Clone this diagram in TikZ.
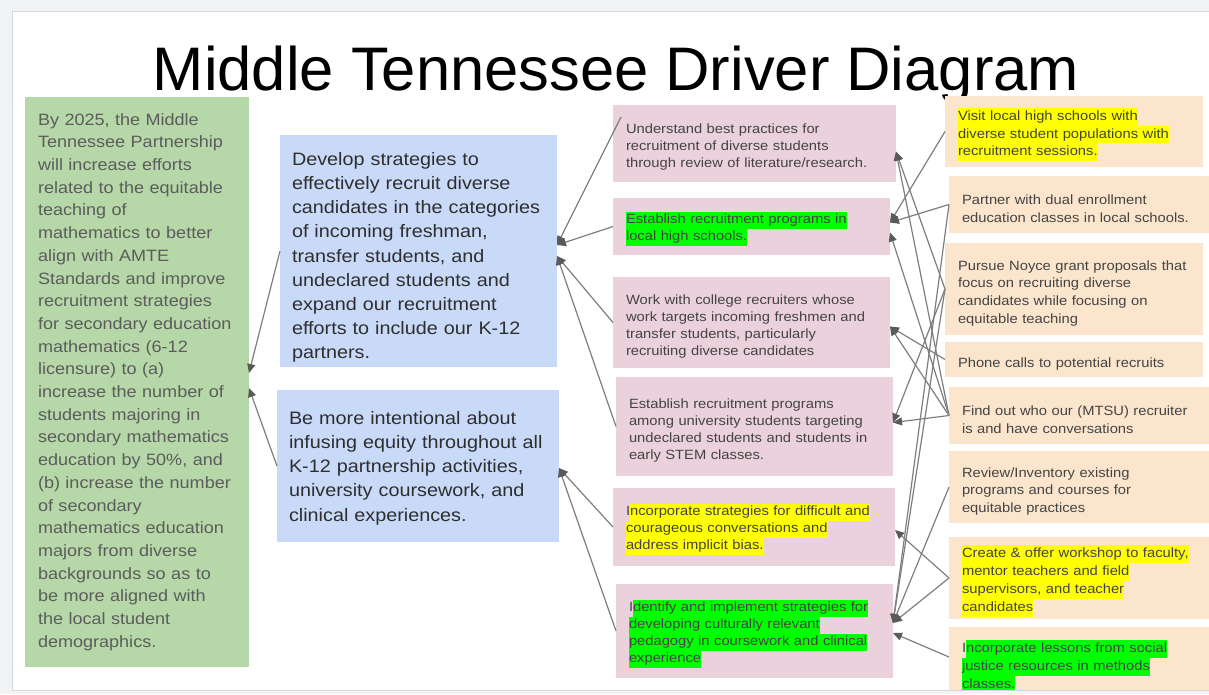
\documentclass[tikz,border=0pt]{standalone}
\usepackage{fontspec}
\setmainfont{Liberation Sans}[FakeStretch=1.1]
\newfontfamily\TitleFont{Liberation Sans}
\usetikzlibrary{arrows.meta}

\definecolor{PageGrey}{HTML}{F1F3F4}
\definecolor{SlideEdge}{HTML}{D5D8DC}
\definecolor{AimGreen}{HTML}{B6D7A8}
\definecolor{DriverBlue}{HTML}{C9DAF8}
\definecolor{SecPink}{HTML}{EAD1DC}
\definecolor{IdeaOrange}{HTML}{FCE5CD}
\definecolor{AimText}{HTML}{5C5C5C}
\definecolor{DarkText}{HTML}{2E2E2E}
\definecolor{BoxText}{HTML}{444444}
\definecolor{LinkGrey}{HTML}{7E7E7E}
\definecolor{TipGrey}{HTML}{5A5A5A}
\definecolor{HiYellow}{HTML}{FFFF00}
\definecolor{HiGreen}{HTML}{00FF00}

\newcommand{\HiY}[1]{{\setlength{\fboxsep}{0pt}\colorbox{HiYellow}{\strut #1}}}
\newcommand{\HiG}[1]{{\setlength{\fboxsep}{0pt}\colorbox{HiGreen}{\strut #1}}}

\begin{document}
\begin{tikzpicture}
  [
    x=1pt, y=-1pt,
    % -{Stealth[length = 2.5pt]},
    Link/.style={line width=1.2pt, draw=LinkGrey, -{Triangle[length=9pt, width=8pt, color=TipGrey]}},
    AimBlock/.style={fill=AimGreen, text=AimText, anchor=north west, inner xsep=13pt, inner ysep=0pt, outer sep=0pt, align=left, font=\fontsize{16.4}{22.7}\selectfont},
    DriverBlock/.style={fill=DriverBlue, text=DarkText, anchor=north west, inner xsep=12pt, inner ysep=0pt, outer sep=0pt, align=left, text height=26pt, font=\fontsize{18}{24.2}\selectfont},
    SecBlock/.style={fill=SecPink, text=BoxText, anchor=north west, inner xsep=13pt, inner ysep=0pt, outer sep=0pt, align=left, text height=17pt, font=\fontsize{13.4}{17}\selectfont},
    IdeaBlock/.style={fill=IdeaOrange, text=BoxText, anchor=north west, inner xsep=13pt, inner ysep=0pt, outer sep=0pt, align=left, text height=18.5pt, font=\fontsize{13.4}{17.8}\selectfont},
  ]

  \useasboundingbox (0,0) rectangle (1209,694);
  \fill[PageGrey] (0,0) rectangle (1209,694);
  \fill[white] (12,11) rectangle (1209,690);

  \begin{scope}
  \clip (12,11) rectangle (1209,690);

  \node[anchor=base, inner sep=0pt, font=\TitleFont\fontsize{61.5}{70}\selectfont] (title) at (616,90) {Middle Tennessee Driver Diagram};

  % aim
  \node[AimBlock, text width=198pt, minimum height=570pt] (aim) at (25,97)
    {By 2025, the Middle\\Tennessee Partnership\\will increase efforts\\related to the equitable\\teaching of\\mathematics to better\\align with AMTE\\Standards and improve\\recruitment strategies\\for secondary education\\mathematics (6-12\\licensure) to (a)\\increase the number of\\students majoring in\\secondary mathematics\\education by 50\%, and\\(b) increase the number\\of secondary\\mathematics education\\majors from diverse\\backgrounds so as to\\be more aligned with\\the local student\\demographics.};

  % primary drivers
  \node[DriverBlock, text width=253pt, minimum height=232pt] (drv1) at (280,135)
    {Develop strategies to\\effectively recruit diverse\\candidates in the categories\\of incoming freshman,\\transfer students, and\\undeclared students and\\expand our recruitment\\efforts to include our K-12\\partners.};
  \node[DriverBlock, text width=258pt, minimum height=152pt, text height=17pt] (drv2) at (277,390)
    {Be more intentional about\\infusing equity throughout all\\K-12 partnership activities,\\university coursework, and\\clinical experiences.};

  % secondary drivers
  \node[SecBlock, text width=257pt, minimum height=77pt] (sec1) at (613,105)
    {Understand best practices for\\recruitment of diverse students\\through review of literature/research.};
  \node[SecBlock, text width=251pt, minimum height=57pt] (sec2) at (613,198)
    {\HiG{Establish recruitment programs in}\\\HiG{local high schools.}};
  \node[SecBlock, text width=251pt, minimum height=91pt] (sec3) at (613,277)
    {Work with college recruiters whose\\work targets incoming freshmen and\\transfer students, particularly\\recruiting diverse candidates};
  \node[SecBlock, text width=251pt, minimum height=99pt] (sec4) at (616,377)
    {Establish recruitment programs\\among university students targeting\\undeclared students and students in\\early STEM classes.};
  \node[SecBlock, text width=256pt, minimum height=78pt] (sec5) at (613,488)
    {I\HiY{ncorporate strategies for difficult and}\\\HiY{courageous conversations and}\\\HiY{address implicit bias.}};
  \node[SecBlock, text width=251pt, minimum height=94pt] (sec6) at (616,584)
    {I\HiG{dentify and implement strategies for}\\\HiG{developing culturally relevant}\\\HiG{pedagogy in coursework and clinical}\\\HiG{experience}};

  % change ideas
  \node[IdeaBlock, text width=232pt, minimum height=71pt] (idea1) at (945,96)
    {\HiY{Visit local high schools with}\\\HiY{diverse student populations with}\\\HiY{recruitment sessions.}};
  \node[IdeaBlock, text width=238pt, minimum height=57pt] (idea2) at (949,176)
    {Partner with dual enrollment\\education classes in local schools.};
  \node[IdeaBlock, text width=232pt, minimum height=92pt] (idea3) at (945,243)
    {Pursue Noyce grant proposals that\\focus on recruiting diverse\\candidates while focusing on\\equitable teaching};
  \node[IdeaBlock, text width=232pt, minimum height=35pt] (idea4) at (945,342)
    {Phone calls to potential recruits};
  \node[IdeaBlock, text width=238pt, minimum height=57pt] (idea5) at (949,387)
    {Find out who our (MTSU) recruiter\\is and have conversations};
  \node[IdeaBlock, text width=238pt, minimum height=72pt] (idea6) at (949,451)
    {Review/Inventory existing\\programs and courses for\\equitable practices};
  \node[IdeaBlock, text width=238pt, minimum height=82pt] (idea7) at (949,537)
    {\HiY{Create \& offer workshop to faculty,}\\\HiY{mentor teachers and field}\\\HiY{supervisors, and teacher}\\\HiY{candidates}};
  \node[IdeaBlock, text width=238pt, minimum height=78pt, text height=14pt] (idea8) at (949,627)
    {I\HiG{ncorporate lessons from social}\\\HiG{justice resources in methods}\\\HiG{classes.}};

  % drivers to aim
  \draw[Link] (drv1.west) -- ([yshift=9pt]aim.east);
  \draw[Link] (drv2.west) -- ([yshift=-6pt]aim.east);

  % secondary to primary
  \draw[Link] ([xshift=8pt,yshift=-12pt]sec1.north west) -- ([yshift=6pt]drv1.east);
  \draw[Link] (sec2.west) -- ([yshift=6pt]drv1.east);
  \draw[Link] (sec3.west) -- ([yshift=-5pt]drv1.east);
  \draw[Link] (sec4.west) -- ([yshift=-5pt]drv1.east);
  \draw[Link] (sec5.west) -- ([yshift=-2pt]drv2.east);
  \draw[Link] (sec6.west) -- ([yshift=-2pt]drv2.east);

  % change ideas to secondary
  \draw[Link] (idea3.west) -- ([yshift=-8pt]sec1.east);
  \draw[Link] (idea5.west) -- ([yshift=-8pt]sec1.east);
  \draw[Link] (idea1.west) -- ([yshift=4pt]sec2.east);
  \draw[Link] (idea2.west) -- ([yshift=4pt]sec2.east);
  \draw[Link] (idea5.west) -- ([yshift=-6pt]sec2.east);
  \draw[Link] (idea4.west) -- ([yshift=-4pt]sec3.east);
  \draw[Link] (idea5.west) -- ([yshift=-4pt]sec3.east);
  \draw[Link] (idea3.west) -- ([yshift=4pt]sec4.east);
  \draw[Link] (idea5.west) -- ([yshift=4pt]sec4.east);
  \draw[Link] (idea7.west) -- ([yshift=-3pt]sec5.east);
  \draw[Link] (idea3.west) -- ([yshift=8pt]sec6.east);
  \draw[Link] (idea2.west) -- ([yshift=8pt]sec6.east);
  \draw[Link] (idea6.west) -- ([yshift=8pt]sec6.east);
  \draw[Link] (idea7.west) -- ([yshift=8pt]sec6.east);
  \draw[Link] ([yshift=9pt]idea8.west) -- ([yshift=-2pt]sec6.east);
  \end{scope}

  \draw[SlideEdge, line width=1pt] (1209,11) -- (12,11) -- (12,690) -- (1209,690);
\end{tikzpicture}
\end{document}
